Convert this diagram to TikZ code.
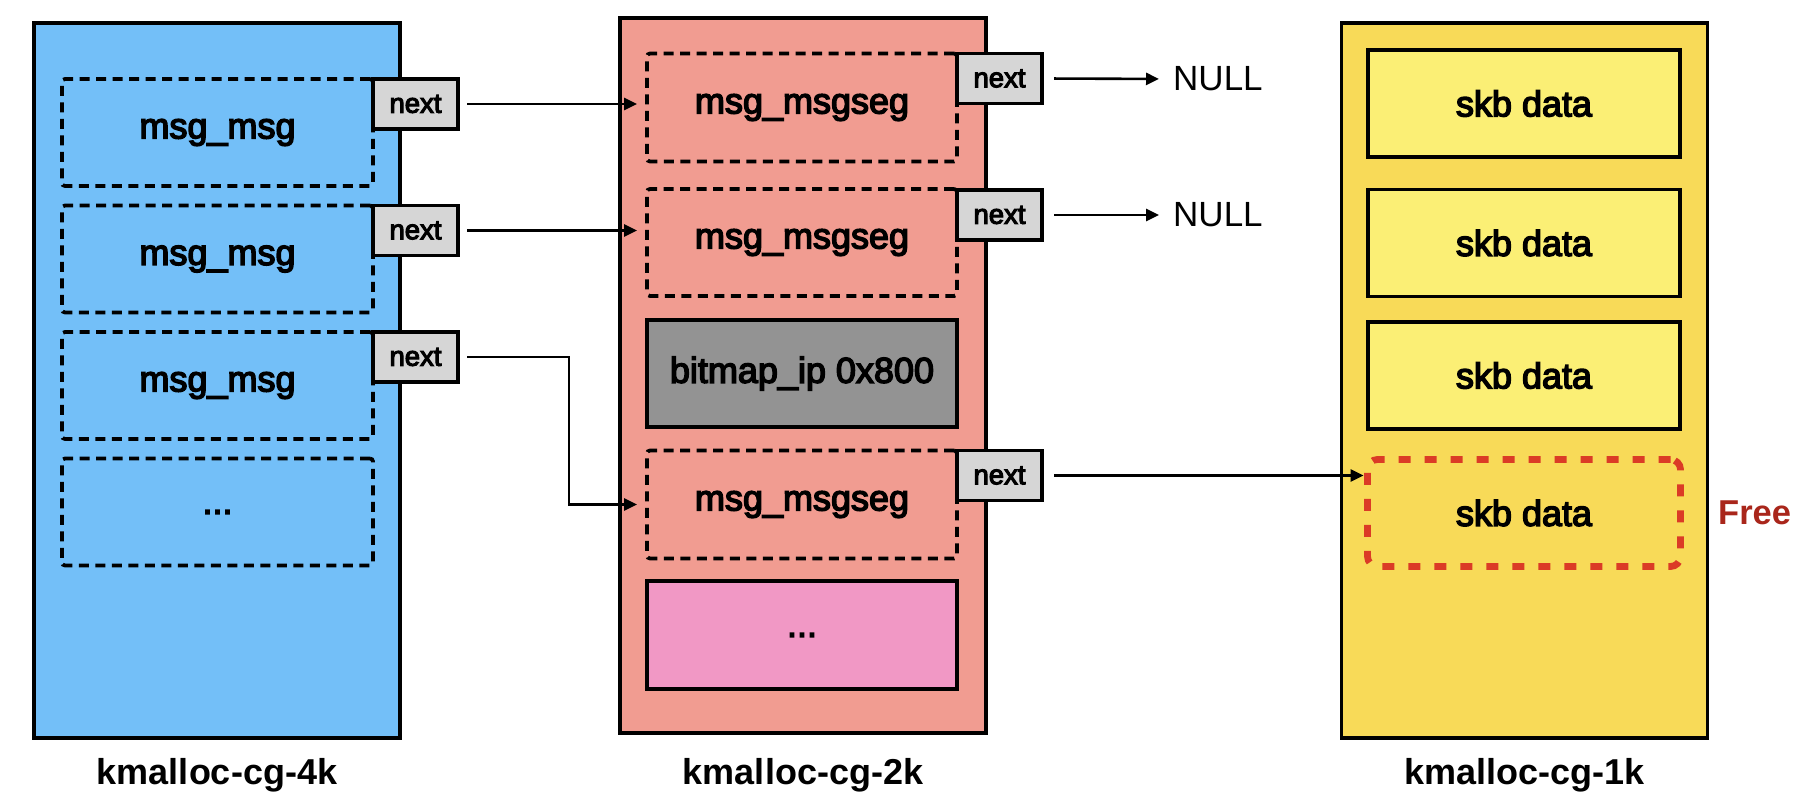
\documentclass[tikz,border=0pt]{standalone}
\usepackage{fontspec}
\setmainfont{Liberation Sans}
\newfontfamily\medfont[FakeBold=4]{Liberation Sans}
\usetikzlibrary{arrows.meta}
\definecolor{blueslab}{RGB}{115,191,248}
\definecolor{pinkslab}{RGB}{241,156,145}
\definecolor{yellowslab}{RGB}{248,218,88}
\definecolor{yellowobj}{RGB}{251,239,117}
\definecolor{grayobj}{RGB}{147,147,147}
\definecolor{pinkobj}{RGB}{241,152,197}
\definecolor{nextgray}{RGB}{214,214,214}
\definecolor{freered}{RGB}{219,59,38}
\definecolor{freetext}{RGB}{169,38,27}
\begin{document}
\begin{tikzpicture}[x=1pt,y=-1pt,
  slab/.style={draw, line width=3.7pt, inner sep=0pt, outer sep=0pt, anchor=north west,
    minimum width=366pt, minimum height=715pt},
  obj/.style={draw, line width=3.8pt, dash pattern=on 10pt off 6.5pt, rounded corners=3pt,
    inner sep=0pt, outer sep=0pt, anchor=north west, minimum width=311pt, minimum height=107pt,
    font=\medfont\fontsize{36}{40}\selectfont},
  solidobj/.style={obj, solid, sharp corners},
  freeobj/.style={obj, draw=freered, line width=6.8pt, dash pattern=on 12pt off 14pt, rounded corners=10pt},
  nextbox/.style={draw, fill=nextgray, line width=3.7pt, inner sep=0pt, outer sep=0pt, anchor=north west,
    minimum width=85pt, minimum height=50pt, font=\medfont\fontsize{27.5}{30}\selectfont},
  arr/.style={-{Triangle[length=13pt,width=12pt]}, line width=2.6pt},
  lbl/.style={font=\bfseries\fontsize{36}{40}\selectfont},
  nulltext/.style={inner sep=0pt, anchor=west, font=\fontsize{35}{40}\selectfont}
]
\useasboundingbox (0,0) rectangle (1806,810);

% slabs
\node[slab, fill=blueslab] (s4) at (34,23) {};
\node[slab, fill=pinkslab] (s2) at (620,18) {};
\node[slab, fill=yellowslab] (s1) at (1341.5,23) {};

% kmalloc-cg-4k objects
\node[obj] (b1) at (62,79) {msg\_msg};
\node[obj] (b2) at (62,205.5) {msg\_msg};
\node[obj] (b3) at (62,332) {msg\_msg};
\node[obj] (b4) at (62,458.5) {...};
\node[nextbox] (bn1) at (373,79) {next};
\node[nextbox] (bn2) at (373,205.5) {next};
\node[nextbox] (bn3) at (373,332) {next};

% kmalloc-cg-2k objects
\node[obj, minimum width=310pt, minimum height=108pt] (p1) at (647,53.5) {msg\_msgseg};
\node[obj, minimum width=310pt] (p2) at (647,189) {msg\_msgseg};
\node[solidobj, minimum width=310pt, fill=grayobj] (p3) at (647,320) {bitmap\_ip 0x800};
\node[obj, minimum width=310pt, minimum height=108pt] (p4) at (647,450.5) {msg\_msgseg};
\node[solidobj, minimum width=310pt, minimum height=108pt, fill=pinkobj] (p5) at (647,581) {...};
\node[nextbox] (pn1) at (957,53.5) {next};
\node[nextbox] (pn2) at (957,190) {next};
\node[nextbox] (pn3) at (957,450.5) {next};

% kmalloc-cg-1k objects
\node[solidobj, minimum width=312pt, fill=yellowobj] (y1) at (1368,50) {skb data};
\node[solidobj, minimum width=312pt, fill=yellowobj] (y2) at (1368,189.5) {skb data};
\node[solidobj, minimum width=312pt, fill=yellowobj] (y3) at (1368,322) {skb data};
\node[freeobj, minimum width=313pt] (y4) at (1367.5,459.5) {skb data};
\node[inner sep=0pt, anchor=west, text=freetext, font=\bfseries\fontsize{34.5}{40}\selectfont] (free) at (1718,513) {Free};

% NULL targets
\node[nulltext] (null1) at (1173,79) {NULL};
\node[nulltext] (null2) at (1173,215) {NULL};

% connectors
\coordinate (turn) at (569,0);
\draw[arr, shorten <=9pt, shorten >=10pt] (bn1.east) -- (p1.west |- bn1.east);
\draw[arr, shorten <=9pt, shorten >=10pt] (bn2.east) -- (p2.west |- bn2.east);
\draw[arr, shorten <=9pt, shorten >=10pt] (bn3.east) -- (bn3.east -| turn) |- (p4.west);
\draw[arr, shorten <=12pt, shorten >=14pt] (pn1.east) -- (null1.west);
\draw[arr, shorten <=12pt, shorten >=14pt] (pn2.east) -- (null2.west);
\draw[arr, shorten <=12pt, shorten >=4pt] (pn3.east) -- (y4.west |- pn3.east);

% labels
\node[lbl] (l4) at ([yshift=-37pt]s4.south) {kmalloc-cg-4k};
\node[lbl] (l2) at ([yshift=-42pt]s2.south) {kmalloc-cg-2k};
\node[lbl] (l1) at ([yshift=-37pt]s1.south) {kmalloc-cg-1k};
\end{tikzpicture}
\end{document}
